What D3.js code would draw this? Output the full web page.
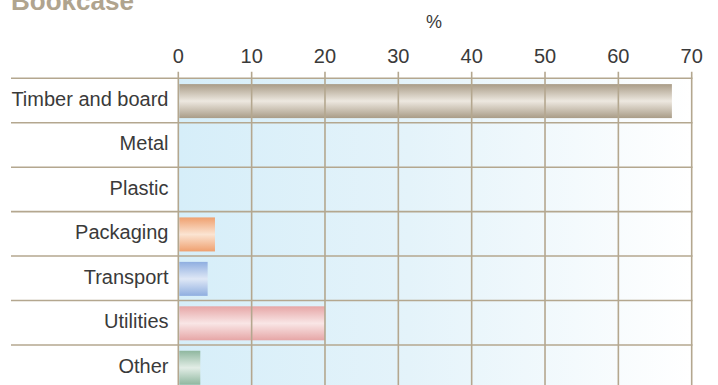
<!DOCTYPE html>
<html>
<head>
<meta charset="utf-8">
<script src="https://cdn.jsdelivr.net/npm/d3@7"></script>
<style>
  html, body { margin: 0; padding: 0; background: #ffffff; }
  svg { display: block; font-family: "Liberation Sans", Arial, Helvetica, sans-serif; }
</style>
</head>
<body>
<svg id="chart" width="718" height="385"></svg>
<script>
// Share of environmental impact by source for a bookcase (%)
const categories = ["Timber and board", "Metal", "Plastic", "Packaging", "Transport", "Utilities", "Other"];
const values = [67.3, 0, 0, 5, 4, 20, 3];
const tickValues = [0, 10, 20, 30, 40, 50, 60, 70];
const barColors = [
  ["#a99c87", "#ede8e0"],
  ["#a99c87", "#ede8e0"],
  ["#a99c87", "#ede8e0"],
  ["#efa06f", "#fbe4d2"],
  ["#8faee0", "#dfe8f6"],
  ["#e6a6a6", "#f9e6e6"],
  ["#8fb79f", "#e2ede6"]
];

const svg = d3.select("#chart");
const defs = svg.append("defs");

const x = d3.scaleLinear().domain([0, 70]).range([178.3, 691.7]);
const row = d3.scaleBand().domain(categories).range([78.3, 389.4]).padding(0);
const gridColor = "#b4a78f";

// plot area background: pale blue fading to white
const bg = defs.append("linearGradient").attr("id", "bgGrad")
  .attr("x1", "0%").attr("x2", "100%").attr("y1", "0%").attr("y2", "0%");
bg.append("stop").attr("offset", "0%").attr("stop-color", "#d6eef9");
bg.append("stop").attr("offset", "45%").attr("stop-color", "#e4f3fa");
bg.append("stop").attr("offset", "100%").attr("stop-color", "#ffffff");

svg.append("rect")
  .attr("x", x(0)).attr("y", row.range()[0])
  .attr("width", x(70) - x(0)).attr("height", row.range()[1] - row.range()[0])
  .attr("fill", "url(#bgGrad)");

// cylinder-style vertical gradients for each bar
barColors.forEach((c, i) => {
  const g = defs.append("linearGradient").attr("id", "bar" + i)
    .attr("x1", "0%").attr("x2", "0%").attr("y1", "0%").attr("y2", "100%");
  g.append("stop").attr("offset", "0%").attr("stop-color", c[0]);
  g.append("stop").attr("offset", "50%").attr("stop-color", c[1]);
  g.append("stop").attr("offset", "100%").attr("stop-color", c[0]);
});

const barTop = 5.8, barH = 34;
svg.append("g").selectAll("rect")
  .data(categories)
  .join("rect")
  .attr("x", x(0) + 1)
  .attr("y", d => row(d) + barTop)
  .attr("width", (d, i) => Math.max(0, x(values[i]) - x(0) - 1))
  .attr("height", barH)
  .attr("fill", (d, i) => "url(#bar" + i + ")");

// vertical grid lines
svg.append("g").selectAll("line")
  .data(tickValues)
  .join("line")
  .attr("x1", d => x(d)).attr("x2", d => x(d))
  .attr("y1", 71.7).attr("y2", 390)
  .attr("stroke", gridColor).attr("stroke-width", 1.6);

// row separator lines
const rowEdges = categories.map(c => row(c)).concat([row.range()[1]]);
svg.append("g").selectAll("line")
  .data(rowEdges)
  .join("line")
  .attr("x1", 11).attr("x2", x(70) + 0.8)
  .attr("y1", d => d).attr("y2", d => d)
  .attr("stroke", gridColor).attr("stroke-width", 1.6);

// tick labels
svg.append("g").selectAll("text")
  .data(tickValues)
  .join("text")
  .attr("x", d => x(d)).attr("y", 63)
  .attr("text-anchor", "middle")
  .attr("font-size", 20)
  .attr("fill", "#3a3a3a")
  .text(d => d);

// category labels
svg.append("g").selectAll("text")
  .data(categories)
  .join("text")
  .attr("x", 168.5)
  .attr("y", d => row(d) + row.bandwidth() / 2 + 5.5)
  .attr("text-anchor", "end")
  .attr("font-size", 20)
  .attr("fill", "#3a3a3a")
  .text(d => d);

// axis unit
svg.append("text")
  .attr("x", 434).attr("y", 28)
  .attr("text-anchor", "middle")
  .attr("font-size", 18)
  .attr("fill", "#3a3a3a")
  .text("%");

// title
svg.append("text")
  .attr("x", 11).attr("y", 10)
  .attr("font-size", 26)
  .attr("font-weight", "bold")
  .attr("fill", "#b0a48e")
  .text("Bookcase");
</script>
</body>
</html>
